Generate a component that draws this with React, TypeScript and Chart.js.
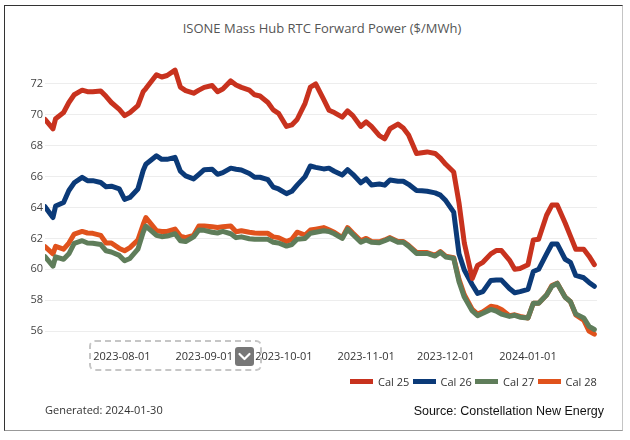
import React, { useEffect, useRef } from 'react';
import { Chart, registerables } from 'chart.js';

Chart.register(...registerables);

// ---- data ----
const dates = [
  '2023-07-03', '2023-07-06', '2023-07-07', '2023-07-10', '2023-07-12', '2023-07-14', '2023-07-17', '2023-07-19', '2023-07-21', '2023-07-24', '2023-07-26', '2023-07-28', '2023-07-31',
  '2023-08-02', '2023-08-04', '2023-08-07', '2023-08-09', '2023-08-10', '2023-08-14', '2023-08-16', '2023-08-18', '2023-08-21', '2023-08-23', '2023-08-25', '2023-08-28', '2023-08-30',
  '2023-09-01', '2023-09-04', '2023-09-06', '2023-09-08', '2023-09-11', '2023-09-13', '2023-09-15', '2023-09-18', '2023-09-20', '2023-09-22', '2023-09-25', '2023-09-27', '2023-09-29',
  '2023-10-02', '2023-10-04', '2023-10-06', '2023-10-09', '2023-10-11', '2023-10-13', '2023-10-16', '2023-10-18', '2023-10-20', '2023-10-23', '2023-10-25', '2023-10-27', '2023-10-30',
  '2023-11-01', '2023-11-03', '2023-11-06', '2023-11-08', '2023-11-10', '2023-11-13', '2023-11-15', '2023-11-17', '2023-11-20', '2023-11-22', '2023-11-24', '2023-11-27', '2023-11-29',
  '2023-12-01', '2023-12-04', '2023-12-06', '2023-12-08', '2023-12-11', '2023-12-13', '2023-12-15', '2023-12-18', '2023-12-20', '2023-12-22', '2023-12-25', '2023-12-27', '2023-12-29',
  '2024-01-01', '2024-01-03', '2024-01-05', '2024-01-08', '2024-01-10', '2024-01-12', '2024-01-15', '2024-01-17', '2024-01-19', '2024-01-22', '2024-01-24', '2024-01-26',
];

const cal25 = [
  69.7, 69.1, 69.75, 70.15, 70.8, 71.3, 71.6, 71.5, 71.5, 71.55, 71.2, 70.8, 70.35,
  69.95, 70.15, 70.6, 71.5, 71.7, 72.6, 72.45, 72.55, 72.9, 71.8, 71.57, 71.4, 71.6,
  71.78, 71.9, 71.5, 71.68, 72.2, 71.94, 71.78, 71.6, 71.3, 71.22, 70.8, 70.32, 70.1,
  69.25, 69.35, 69.7, 70.75, 71.8, 72.0, 71.0, 70.3, 70.15, 69.85, 70.25, 69.95, 69.25,
  69.55, 69.25, 68.65, 68.45, 69.1, 69.4, 69.15, 68.7, 67.5, 67.55, 67.6, 67.5, 67.2,
  66.8, 66.3, 64.3, 61.7, 59.4, 60.25, 60.45, 61.0, 61.21, 61.21, 60.6, 60.0, 60.05,
  60.3, 61.9, 61.94, 63.5, 64.16, 64.16, 63.0, 62.15, 61.3, 61.3, 60.85, 60.3,
];

const cal26 = [
  64.05, 63.35, 64.1, 64.33, 65.1, 65.6, 65.95, 65.74, 65.74, 65.62, 65.35, 65.38, 65.2,
  64.53, 64.65, 65.2, 66.4, 66.8, 67.35, 67.12, 67.12, 67.25, 66.35, 66.05, 65.85, 66.15,
  66.45, 66.48, 66.15, 66.26, 66.55, 66.48, 66.43, 66.2, 65.96, 65.96, 65.8, 65.32, 65.2,
  64.9, 65.05, 65.45, 66.0, 66.69, 66.6, 66.5, 66.55, 66.35, 66.1, 66.45, 66.15, 65.6,
  65.85, 65.46, 65.52, 65.45, 65.78, 65.7, 65.7, 65.5, 65.1, 65.08, 65.05, 64.95, 64.8,
  64.45, 63.7, 61.0, 59.95, 59.0, 58.44, 58.55, 59.28, 59.3, 59.3, 58.75, 58.48, 58.55,
  58.7, 59.86, 60.0, 61.0, 61.64, 61.64, 60.65, 60.45, 59.6, 59.45, 59.15, 58.9,
];

const cal27 = [
  60.82, 60.2, 60.8, 60.65, 61.0, 61.68, 61.85, 61.7, 61.68, 61.6, 61.2, 61.12, 60.9,
  60.55, 60.7, 61.3, 62.4, 62.8, 62.2, 62.11, 62.15, 62.3, 61.85, 61.8, 62.1, 62.54,
  62.52, 62.4, 62.35, 62.45, 62.3, 62.05, 62.1, 61.98, 61.94, 61.94, 61.94, 61.75, 61.7,
  61.5, 61.6, 61.95, 62.0, 62.33, 62.4, 62.5, 62.45, 62.3, 62.0, 62.6, 62.25, 61.75,
  61.9, 61.75, 61.72, 61.85, 62.0, 61.75, 61.75, 61.5, 61.03, 61.03, 61.03, 60.86, 61.1,
  60.8, 60.71, 59.2, 58.2, 57.3, 57.0, 57.15, 57.4, 57.3, 57.1, 56.95, 57.02, 56.9,
  56.85, 57.8, 57.8, 58.33, 58.9, 59.09, 58.19, 57.9, 57.1, 56.85, 56.3, 56.1,
];

const cal28 = [
  61.46, 61.0, 61.48, 61.3, 61.7, 62.28, 62.45, 62.35, 62.33, 62.2, 61.7, 61.7, 61.35,
  61.2, 61.4, 61.9, 62.9, 63.35, 62.5, 62.45, 62.45, 62.6, 62.15, 62.05, 62.2, 62.8,
  62.8, 62.75, 62.7, 62.75, 62.8, 62.43, 62.5, 62.4, 62.35, 62.33, 62.33, 62.1, 62.05,
  61.8, 61.95, 62.4, 62.22, 62.54, 62.6, 62.7, 62.55, 62.4, 62.05, 62.7, 62.35, 61.85,
  62.0, 61.8, 61.78, 61.9, 62.05, 61.8, 61.8, 61.55, 61.1, 61.08, 61.08, 60.9, 61.15,
  60.85, 60.75, 59.35, 58.35, 57.4, 57.1, 57.25, 57.6, 57.55, 57.4, 57.0, 57.05, 56.95,
  56.85, 57.8, 57.8, 58.33, 58.95, 59.1, 58.2, 57.9, 57.05, 56.7, 56.0, 55.8,
];

const seriesNames = ['Cal 25', 'Cal 26', 'Cal 27', 'Cal 28'];
const seriesColors = ['#c8321e', '#0b3a78', '#5f7d5a', '#e0521c'];
const xTickDates = ['2023-08-01', '2023-09-01', '2023-10-01', '2023-11-01', '2023-12-01', '2024-01-01'];
const yTicks = [56, 58, 60, 62, 64, 66, 68, 70, 72];
const xRange = ['2023-07-03', '2024-01-27'];
const yRange = [55.55, 74.2];

const titleText = 'ISONE Mass Hub RTC Forward Power ($/MWh)';
const generatedText = 'Generated: 2024-01-30';
const sourceText = 'Source: Constellation New Energy';

const FONT = "'Open Sans', 'Noto Sans', sans-serif";

const toDay = (s: string) => {
  const [y, m, d] = s.split('-').map(Number);
  return Date.UTC(y, m - 1, d) / 86400000;
};

export default function App() {
  const canvasRef = useRef<HTMLCanvasElement | null>(null);

  useEffect(() => {
    const canvas = canvasRef.current;
    if (!canvas) return;
    const xs = dates.map(toDay);
    const series = [cal25, cal26, cal27, cal28];
    const tickLabelMap = new Map<number, string>();
    xTickDates.forEach((d) => tickLabelMap.set(toDay(d), d));

    const chart = new Chart(canvas, {
      type: 'line',
      data: {
        datasets: series.map((vals, i) => ({
          label: seriesNames[i],
          data: vals.map((v, j) => ({ x: xs[j], y: v })),
          borderColor: seriesColors[i],
          backgroundColor: seriesColors[i],
          borderWidth: 5,
          pointRadius: 0,
          pointHoverRadius: 0,
          tension: 0,
          fill: false,
          borderJoinStyle: 'round' as const,
          borderCapStyle: 'round' as const,
        })),
      },
      options: {
        animation: false,
        responsive: false,
        events: [],
        layout: { padding: { left: 0, right: 33, top: 50, bottom: 72 } },
        plugins: {
          legend: { display: false },
          title: { display: false },
          tooltip: { enabled: false },
        },
        scales: {
          x: {
            type: 'linear',
            min: toDay(xRange[0]),
            max: toDay(xRange[1]),
            grid: { display: false, drawTicks: false },
            border: { display: false },
            ticks: {
              font: { family: FONT, size: 11 },
              color: '#333333',
              padding: 12,
              maxRotation: 0,
              autoSkip: false,
              callback: (v: any) => tickLabelMap.get(Number(v)) ?? '',
            },
            afterBuildTicks: (scale: any) => {
              scale.ticks = xTickDates.map((d) => ({ value: toDay(d) }));
            },
            afterFit: (scale: any) => {
              scale.height = 30;
            },
          },
          y: {
            type: 'linear',
            min: yRange[0],
            max: yRange[1],
            grid: { color: '#ededed', lineWidth: 1, drawTicks: false },
            border: { display: false },
            ticks: {
              font: { family: FONT, size: 11 },
              color: '#444444',
              padding: 2,
              callback: (v: any) => String(v),
            },
            afterBuildTicks: (scale: any) => {
              scale.ticks = yTicks.map((v) => ({ value: v }));
            },
            afterFit: (scale: any) => {
              scale.width = 45;
            },
          },
        },
      },
    });
    return () => chart.destroy();
  }, []);

  return (
    <div style={{ position: 'absolute', left: 0, top: 0, width: 630, height: 440, background: '#ffffff', overflow: 'hidden' }}>
      <div
        style={{
          position: 'absolute', left: 4, top: 5, width: 619, height: 426, boxSizing: 'border-box',
          borderTop: '1px solid #333', borderLeft: '1px solid #333', borderRight: '1px solid #c4c4c4', borderBottom: '1px solid #999',
        }}
      />
      <div
        style={{
          position: 'absolute', left: 322 - 200, top: 18, width: 400, height: 20, lineHeight: '20px', textAlign: 'center',
          fontFamily: FONT, fontSize: 13, color: '#555555', whiteSpace: 'nowrap',
        }}
      >
        {titleText}
      </div>
      <canvas ref={canvasRef} width={630} height={440} style={{ position: 'absolute', left: 0, top: 0, width: 630, height: 440 }} />
      {/* range selector overlay */}
      <div
        style={{
          position: 'absolute', left: 89, top: 340, width: 173, height: 31, boxSizing: 'border-box',
          border: '2px dashed #c6c6c6', borderRadius: 6,
        }}
      />
      <div
        style={{
          position: 'absolute', left: 235, top: 347, width: 19, height: 19, background: '#777777', borderRadius: 3,
        }}
      >
        <svg width="19" height="19" viewBox="0 0 19 19" style={{ display: 'block' }}>
          <polyline points="4.5,7 9.5,12 14.5,7" fill="none" stroke="#ffffff" strokeWidth="2.2" strokeLinecap="round" strokeLinejoin="round" />
        </svg>
      </div>
      {/* legend */}
      {seriesNames.map((name, i) => (
        <div
          key={name}
          style={{
            position: 'absolute', left: 350 + i * 62.5, top: 373, height: 16, display: 'flex', alignItems: 'center',
            fontFamily: FONT, fontSize: 11, color: '#333333', whiteSpace: 'nowrap',
          }}
        >
          <span style={{ display: 'inline-block', width: 23, height: 5, background: seriesColors[i], marginRight: 5 }} />
          <span>{name}</span>
        </div>
      ))}
      {/* footer */}
      <div
        style={{
          position: 'absolute', left: 45, top: 402, height: 16, lineHeight: '16px',
          fontFamily: FONT, fontSize: 11, color: '#333333', whiteSpace: 'nowrap',
        }}
      >
        {generatedText}
      </div>
      <div
        style={{
          position: 'absolute', right: 630 - 604, top: 403, height: 16, lineHeight: '16px',
          fontFamily: "'Liberation Sans', Arial, sans-serif", fontSize: 12.5, color: '#111111', whiteSpace: 'nowrap',
        }}
      >
        {sourceText}
      </div>
    </div>
  );
}
